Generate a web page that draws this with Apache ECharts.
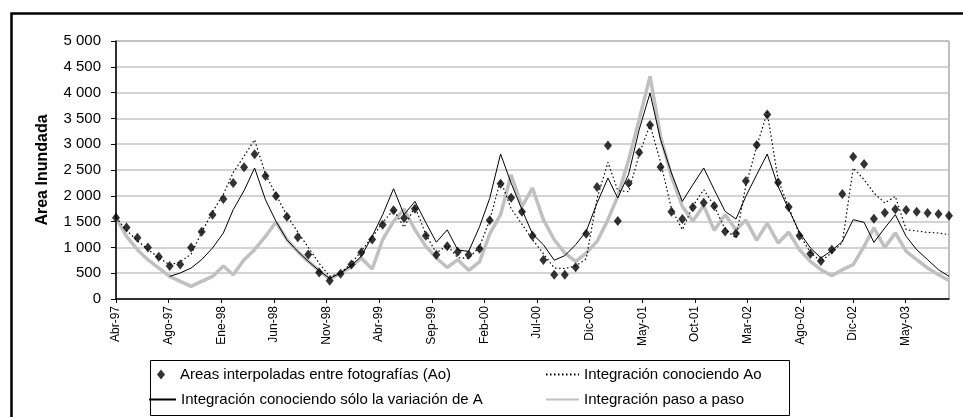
<!DOCTYPE html>
<html>
<head>
<meta charset="utf-8">
<script src="https://cdn.jsdelivr.net/npm/echarts@6/dist/echarts.min.js"></script>
<style>
html,body{margin:0;padding:0;background:#ffffff;}
#chart{width:963px;height:417px;}
</style>
</head>
<body>
<div id="chart"></div>
<script>
// ---- data ----
const months = [
  '1997-04','1997-05','1997-06','1997-07','1997-08','1997-09','1997-10','1997-11','1997-12',
  '1998-01','1998-02','1998-03','1998-04','1998-05','1998-06','1998-07','1998-08','1998-09','1998-10','1998-11','1998-12',
  '1999-01','1999-02','1999-03','1999-04','1999-05','1999-06','1999-07','1999-08','1999-09','1999-10','1999-11','1999-12',
  '2000-01','2000-02','2000-03','2000-04','2000-05','2000-06','2000-07','2000-08','2000-09','2000-10','2000-11','2000-12',
  '2001-01','2001-02','2001-03','2001-04','2001-05','2001-06','2001-07','2001-08','2001-09','2001-10','2001-11','2001-12',
  '2002-01','2002-02','2002-03','2002-04','2002-05','2002-06','2002-07','2002-08','2002-09','2002-10','2002-11','2002-12',
  '2003-01','2003-02','2003-03','2003-04','2003-05','2003-06','2003-07','2003-08','2003-09','2003-10'
];

const tickLabels = ['Abr-97','Ago-97','Ene-98','Jun-98','Nov-98','Abr-99','Sep-99','Feb-00',
  'Jul-00','Dic-00','May-01','Oct-01','Mar-02','Ago-02','Dic-02','May-03'];

const seriesNames = [
  'Areas interpoladas entre fotografías (Ao)',
  'Integración conociendo Ao',
  'Integración conociendo sólo la variación de A',
  'Integración paso a paso'
];

const areasAo = [1576,1388,1188,1000,820,639,671,1000,1304,1634,
  1938,2248,2551,2803,2384,1996,1594,1196,864,515,
  354,490,670,903,1155,1441,1721,1572,1751,1228,
  857,1024,917,859,975,1524,2234,1963,1692,1227,
  756,471,471,614,1266,2170,2977,1512,2241,2841,
  3372,2558,1692,1550,1776,1866,1802,1310,1271,2287,
  2985,3578,2260,1783,1227,878,736,955,2035,2758,
  2616,1556,1672,1737,1725,1692,1667,1647,1614];

const integAo = [1576,1330,1130,960,800,660,720,870,1290,1690,
  2030,2450,2770,3085,2420,2020,1620,1300,1000,690,
  440,500,690,930,1200,1480,1730,1390,1790,1250,
  890,1040,800,790,1010,1530,2300,1750,1450,1150,
  880,600,590,640,780,1950,2650,2100,2080,2800,
  3380,2650,1750,1343,1800,2118,1802,1350,1182,2200,
  2958,3615,2312,1780,1250,900,730,900,1090,2539,
  2312,2054,1860,1989,1343,1318,1291,1279,1246];

const integVarA = [null,null,null,null,null,438,504,600,762,988,
  1279,1731,2100,2539,1924,1504,1149,922,729,550,
  400,500,650,826,1214,1634,2138,1634,1892,1480,
  1100,1340,950,922,1400,1950,2810,2247,1731,1260,
  1052,752,840,1052,1311,1860,2344,1957,2420,3281,
  3992,3087,2442,1892,2215,2539,2118,1698,1550,1989,
  2409,2810,2183,1740,1290,990,795,940,1116,1537,
  1485,1097,1376,1634,1213,955,762,568,438];

const integPaso = [1576,1213,955,762,600,438,341,244,341,438,
  640,470,760,955,1213,1494,1149,922,729,550,
  387,503,632,794,581,1149,1504,1744,1343,1020,
  794,610,762,555,720,1260,1634,2409,1795,2150,
  1537,1149,891,729,891,1116,1537,1989,2700,3475,
  4314,3151,2376,1795,1510,1810,1330,1634,1340,1530,
  1140,1465,1085,1295,955,729,568,451,568,665,
  1020,1380,1000,1279,922,762,601,471,360];

// ---- helpers ----
const DAY = 86400000;
const BASE = Date.UTC(1997, 3, 1);
const TICK_DAYS = 150;
const dayOf = s => { const p = s.split('-').map(Number); return Math.round((Date.UTC(p[0], p[1] - 1, 1) - BASE) / DAY); };
const xs = months.map(dayOf);
const pairs = arr => arr.map((v, i) => [xs[i], v]).filter(p => p[1] !== null);
const tickValues = tickLabels.map((_, k) => k * TICK_DAYS);
const fmtY = v => v >= 1000 ? Math.floor(v / 1000) + ' ' + String(v % 1000).padStart(3, '0') : String(v);

const FONT = "'Liberation Sans', Arial, sans-serif";
const legendText = { color: '#000', fontSize: 15, fontFamily: FONT };
const diamondIcon = 'path://M0,5L0,5M9,5L13,0L17,5L13,10ZM27,5L27,5';
const lineLegendBase = { padding: 0, itemHeight: 10, selectedMode: false, textStyle: legendText, itemStyle: { opacity: 0 } };

const chart = echarts.init(document.getElementById('chart'), null, { renderer: 'canvas' });
chart.setOption({
  animation: false,
  backgroundColor: '#ffffff',
  textStyle: { fontFamily: FONT },
  grid: { left: 116, right: 14, top: 41, bottom: 118, show: true, borderColor: '#808080', borderWidth: 1, backgroundColor: 'transparent' },
  xAxis: {
    type: 'value', min: 0, max: xs[xs.length - 1], interval: TICK_DAYS,
    axisLine: { show: true, lineStyle: { color: '#000', width: 1.5 } },
    axisTick: { show: true, length: 4, lineStyle: { color: '#000' }, customValues: tickValues },
    axisLabel: {
      rotate: 90, margin: 7, fontSize: 12, color: '#000', fontFamily: FONT, customValues: tickValues,
      formatter: v => { const k = Math.round(v / TICK_DAYS); return Math.abs(v - k * TICK_DAYS) < 1e-6 && tickLabels[k] ? tickLabels[k] : ''; }
    },
    splitLine: { show: false }
  },
  yAxis: {
    type: 'value', min: 0, max: 5000, interval: 500,
    name: 'Area Inundada', nameLocation: 'middle', nameGap: 65,
    nameTextStyle: { fontSize: 16, fontWeight: 'bold', color: '#000', fontFamily: FONT },
    axisLine: { show: true, lineStyle: { color: '#000', width: 1.5 } },
    axisTick: { show: true, length: 5, lineStyle: { color: '#000' } },
    axisLabel: { margin: 15, fontSize: 15, color: '#000', fontFamily: FONT, formatter: fmtY },
    splitLine: { show: true, lineStyle: { color: '#c4c4c4', width: 1.5 } }
  },
  legend: [
    { data: [{ name: seriesNames[0], icon: diamondIcon }], left: 148, top: 367, padding: 0, itemWidth: 27, itemHeight: 10, selectedMode: false, textStyle: legendText },
    Object.assign({ data: [seriesNames[1]], left: 545, top: 367, itemWidth: 33 }, lineLegendBase),
    Object.assign({ data: [seriesNames[2]], left: 148, top: 392, itemWidth: 27 }, lineLegendBase),
    Object.assign({ data: [seriesNames[3]], left: 545, top: 392, itemWidth: 33 }, lineLegendBase)
  ],
  graphic: [
    { type: 'rect', left: 9, top: 11, shape: { width: 1000, height: 500 }, style: { fill: 'none', stroke: '#000', lineWidth: 2.5 }, silent: true, z: 100 },
    { type: 'rect', left: 148, top: 358, shape: { width: 639, height: 55 }, style: { fill: 'none', stroke: '#000', lineWidth: 1 }, silent: true, z: 100 }
  ],
  series: [
    {
      name: seriesNames[0], type: 'scatter', data: pairs(areasAo),
      symbol: 'diamond', symbolSize: [8, 10], itemStyle: { color: '#000' }, z: 5
    },
    {
      name: seriesNames[1], type: 'line', data: pairs(integAo), symbol: 'none', showSymbol: false,
      lineStyle: { color: '#000', width: 1.2, type: [1.5, 2.5] }, itemStyle: { color: '#000' }, z: 4
    },
    {
      name: seriesNames[2], type: 'line', data: pairs(integVarA), symbol: 'none', showSymbol: false,
      lineStyle: { color: '#000', width: 1 }, itemStyle: { color: '#000' }, z: 4
    },
    {
      name: seriesNames[3], type: 'line', data: pairs(integPaso), symbol: 'none', showSymbol: false,
      lineStyle: { color: '#c0c0c0', width: 3.5 }, itemStyle: { color: '#c0c0c0' }, z: 3
    }
  ]
});
</script>
</body>
</html>
